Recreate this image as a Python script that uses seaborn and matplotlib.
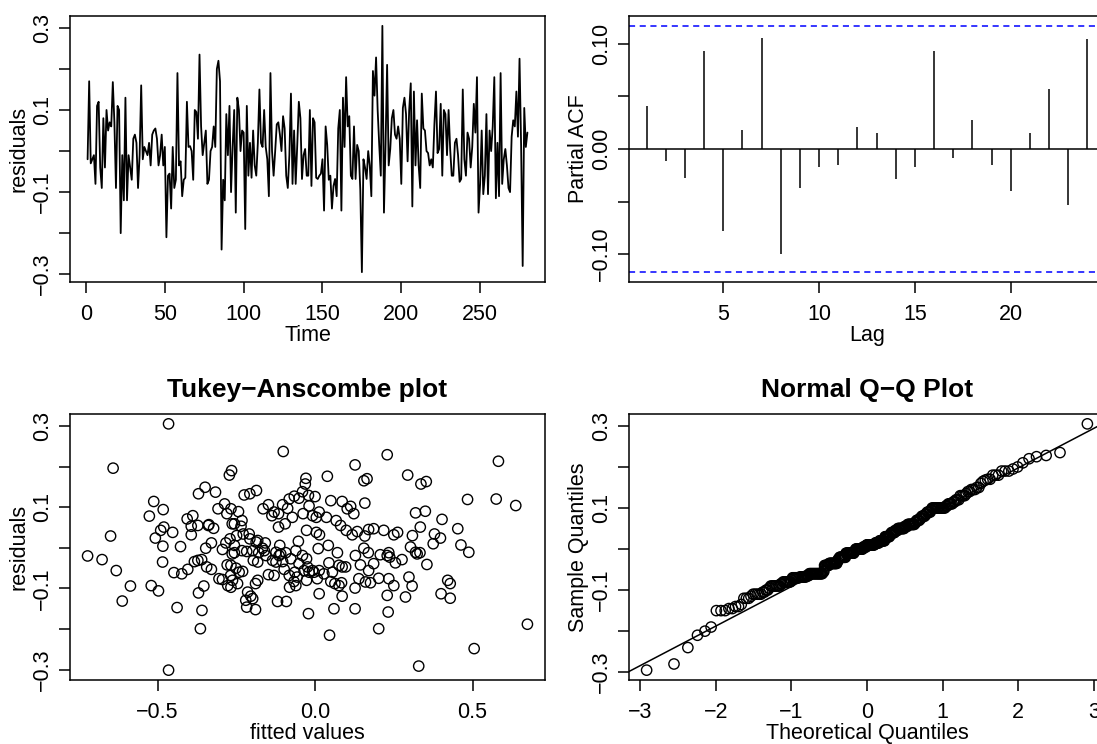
import numpy as np
import matplotlib
matplotlib.use("Agg")
import matplotlib.pyplot as plt
import seaborn as sns
from statistics import NormalDist

# residual series in five stretches
resid_part1 = [-0.02, 0.17, -0.03, -0.02, -0.01, -0.08, 0.11, 0.12, -0.04, -0.09,
               0.08, -0.04, 0.10, 0.05, 0.07, 0.06, 0.168, 0.07, -0.09, 0.11,
               0.10, -0.20, -0.01, -0.12, 0.13, -0.12, -0.01, -0.04, -0.07, 0.03,
               0.04, 0.02, -0.09, -0.01, 0.16, -0.02, 0.01, 0.00, -0.01, 0.02,
               -0.035, 0.04, 0.05, 0.055, 0.03, -0.035, -0.01]
resid_part2 = [0.04, -0.035, 0.01, -0.21, -0.06, -0.055, -0.14, 0.01, -0.09, -0.07,
               0.19, -0.035, -0.025, -0.11, -0.07, -0.065, 0.12, 0.01, 0.012, 0.00,
               -0.07, 0.10, 0.095, 0.03, 0.235, 0.06, -0.01, 0.02, 0.05, -0.08,
               -0.07, 0.00, 0.01, 0.06, 0.01, 0.20, 0.22, 0.17, -0.24, -0.07,
               -0.12, 0.09, -0.01, 0.11, -0.10, 0.01, 0.10, -0.15, 0.13, 0.10,
               0.00, 0.05, 0.045, -0.19]
resid_part3 = [0.11, -0.06, 0.02, -0.065, 0.05, -0.035, -0.06, 0.02, 0.15, 0.02,
               0.01, 0.10, 0.01, -0.02, -0.11, 0.19, 0.00, -0.06, 0.00, 0.065,
               0.07, 0.04, 0.00, 0.085, 0.055, -0.06, -0.09, -0.01, 0.14, -0.08,
               0.05, -0.08, 0.015, 0.12, 0.08, -0.068, -0.01, 0.005, -0.06, -0.06,
               0.10, -0.085, 0.08, 0.07, -0.065, -0.068, -0.06, -0.055, -0.02, -0.145,
               0.06, 0.015, -0.07, -0.06]
resid_part4 = [-0.14, -0.085, -0.068, -0.11, 0.055, 0.10, -0.145, 0.13, 0.01, 0.18,
               0.06, 0.085, -0.06, -0.068, 0.06, -0.068, 0.015, 0.00, -0.095, -0.295,
               -0.02, -0.04, -0.068, 0.00, -0.035, -0.11, 0.195, 0.135, 0.228, 0.10,
               0.015, -0.06, 0.305, -0.15, 0.015, 0.21, -0.035, 0.005, 0.08, 0.10,
               0.04, 0.03, 0.06, 0.03, -0.08, 0.105, 0.13, 0.09, -0.025, 0.10,
               0.165, -0.135]
resid_part5 = [0.145, -0.035, 0.075, -0.035, -0.09, 0.14, 0.055, 0.05, 0.00, -0.005,
               -0.035, -0.02, -0.04, 0.065, 0.145, -0.005, 0.005, 0.115, -0.06, 0.10,
               0.09, -0.01, 0.10, 0.005, -0.06, -0.06, 0.02, 0.03, -0.01, -0.075,
               -0.068, 0.15, -0.02, -0.06, 0.045, 0.03, -0.04, 0.01, 0.115, 0.045,
               0.18, -0.15, -0.08, 0.05, -0.105, -0.06, 0.09, -0.105, 0.05, 0.00,
               0.06, 0.18, -0.115, 0.02, -0.11, 0.19, -0.08, -0.02, 0.005, -0.035,
               -0.09, -0.10, 0.035, 0.075, 0.06, 0.145, 0.035, 0.225, 0.015, -0.28,
               0.105, 0.01, 0.045]

# partial autocorrelations, lags 1..24
pacf_lags = list(range(1, 25))
pacf_vals = [0.041, -0.011, -0.028, 0.093, -0.078, 0.018, 0.106, -0.100,
             -0.037, -0.017, -0.015, 0.021, 0.015, -0.029, -0.017, 0.093,
             -0.009, 0.028, -0.015, -0.040, 0.015, 0.057, -0.053, 0.105]

# Tukey-Anscombe plot: fitted values and residuals
ta_fitted_left = [-0.465, -0.641, -0.649, -0.722, -0.676, -0.631, -0.586, -0.612, -0.520, -0.497,
                  -0.465, -0.438, -0.512, -0.482, -0.526, -0.480, -0.490, -0.507, -0.452, -0.483,
                  -0.427, -0.484, -0.448, -0.423, -0.404, -0.383, -0.372, -0.360, -0.406, -0.388,
                  -0.393, -0.372, -0.393, -0.370, -0.349, -0.316, -0.353, -0.370, -0.359, -0.364,
                  -0.339, -0.322, -0.337, -0.347, -0.329, -0.344, -0.329, -0.308, -0.287, -0.280,
                  -0.272, -0.265, -0.294, -0.283, -0.305, -0.294, -0.277, -0.279, -0.263, -0.263,
                  -0.268]
ta_resid_left = [0.305, 0.196, 0.029, -0.020, -0.029, -0.056, -0.094, -0.131, -0.093, -0.106,
                 -0.301, -0.147, 0.114, 0.094, 0.078, 0.051, 0.043, 0.024, 0.038, 0.004,
                 0.003, -0.035, -0.061, -0.064, -0.053, -0.034, -0.031, -0.029, 0.071, 0.079,
                 0.053, 0.055, 0.032, 0.133, 0.149, 0.137, -0.094, -0.111, -0.154, -0.199,
                 0.055, 0.048, 0.057, -0.001, 0.012, -0.047, -0.053, 0.096, 0.108, 0.084,
                 0.179, 0.190, -0.004, 0.012, -0.076, -0.078, -0.093, -0.042, 0.059, -0.015,
                 -0.068]
ta_fitted_mid = [-0.101, 0.229, 0.127, 0.155, 0.165, 0.039, -0.029, -0.031, -0.040, -0.021,
                 -0.066, -0.082, -0.186, -0.207, -0.225, -0.243, -0.267, -0.165, -0.148, -0.130,
                 -0.116, -0.103, -0.087, -0.072, -0.116, -0.095, -0.038, -0.019, 0.004, 0.013,
                 0.036, 0.050, 0.086, 0.102, 0.113, 0.123, 0.158, 0.067, 0.081, 0.099,
                 0.118, 0.134, 0.170, 0.186, 0.158, 0.218, -0.256, -0.235, -0.249, -0.228,
                 -0.209, -0.232, -0.256, -0.217, -0.198, -0.182, -0.167, -0.179, -0.196, -0.182,
                 -0.158, -0.124, -0.112, -0.109, -0.093, -0.077, -0.124, -0.098, -0.130, -0.148,
                 -0.182, -0.189, -0.267, -0.251, -0.241, -0.230, -0.262, -0.246, -0.267, -0.214,
                 -0.204, -0.220, -0.198, -0.217, -0.189, -0.119, -0.091, -0.053, -0.061, -0.040,
                 -0.027, -0.024, -0.051, -0.064, -0.057, -0.067, -0.081, -0.061, -0.027, -0.003,
                 0.013, 0.028, 0.007, 0.013, -0.021, 0.046, 0.060, 0.086, 0.127, 0.202,
                 0.232, 0.229, 0.127, 0.139, 0.160, 0.176, 0.202, 0.170, 0.186, 0.207,
                 0.229, 0.144, 0.155, 0.169, 0.128, 0.071, 0.042, 0.010, 0.004, 0.014,
                 -0.027, 0.044, 0.055, 0.076, 0.086, 0.097, 0.050, 0.063, 0.076, 0.084,
                 -0.008, -0.019, -0.035, -0.135, -0.156, -0.161, -0.114, -0.103, -0.082, -0.008,
                 0.000, -0.051, -0.137, -0.232, -0.207, -0.187, -0.270, -0.256]
ta_resid_mid = [0.237, 0.229, 0.204, 0.165, 0.170, 0.176, 0.171, 0.157, 0.138, 0.129,
                0.127, 0.120, 0.141, 0.133, 0.130, 0.089, 0.096, 0.096, 0.106, 0.088,
                0.084, 0.106, 0.097, 0.075, 0.051, 0.059, 0.084, 0.103, 0.075, 0.088,
                0.075, 0.116, 0.114, 0.096, 0.102, 0.084, 0.110, 0.067, 0.055, 0.043,
                0.032, 0.040, 0.045, 0.047, 0.029, 0.043, 0.059, 0.053, 0.030, 0.034,
                0.034, -0.007, -0.012, -0.009, -0.007, 0.018, -0.001, -0.012, -0.031, -0.035,
                0.012, -0.011, 0.006, -0.015, -0.012, -0.027, -0.035, -0.053, -0.068, -0.066,
                -0.080, -0.088, -0.043, -0.050, -0.060, -0.058, -0.080, -0.088, -0.097, -0.109,
                -0.119, -0.129, -0.125, -0.146, -0.152, -0.132, -0.132, 0.016, -0.007, -0.019,
                -0.027, -0.047, -0.039, -0.060, -0.072, -0.083, -0.097, -0.093, -0.080, -0.060,
                -0.056, -0.064, -0.076, -0.113, -0.162, -0.215, -0.150, -0.119, -0.150, -0.199,
                -0.158, -0.117, -0.099, -0.076, -0.084, -0.086, -0.075, -0.056, -0.039, -0.017,
                -0.019, -0.042, -0.001, -0.012, -0.019, -0.012, 0.006, -0.002, 0.038, 0.032,
                0.043, -0.037, -0.060, -0.043, -0.047, -0.047, -0.083, -0.088, -0.093, -0.086,
                -0.056, -0.060, -0.056, -0.031, -0.019, -0.007, -0.019, -0.034, -0.068, 0.079,
                0.126, 0.122, 0.079, 0.067, 0.022, 0.014, 0.022, 0.006]
ta_fitted_right = [0.294, 0.336, 0.353, 0.582, 0.484, 0.575, 0.637, 0.319, 0.350, 0.403,
                   0.334, 0.309, 0.262, 0.250, 0.379, 0.398, 0.453, 0.463, 0.488, 0.375,
                   0.303, 0.319, 0.333, 0.324, 0.234, 0.237, 0.255, 0.276, 0.355, 0.234,
                   0.250, 0.287, 0.298, 0.308, 0.421, 0.429, 0.400, 0.429, 0.674, 0.505,
                   0.329]
ta_resid_right = [0.179, 0.157, 0.163, 0.213, 0.119, 0.120, 0.104, 0.086, 0.090, 0.070,
                  0.051, 0.030, 0.038, 0.032, 0.034, 0.024, 0.047, 0.007, -0.011, 0.010,
                  0.002, -0.011, -0.012, -0.015, -0.012, -0.023, -0.037, -0.029, -0.041, -0.076,
                  -0.093, -0.121, -0.072, -0.094, -0.080, -0.088, -0.113, -0.124, -0.188, -0.248,
                  -0.291]

resid_ticks = [-0.3, -0.2, -0.1, 0.0, 0.1, 0.2, 0.3]
resid_ticklabels = ["\u22120.3", "", "\u22120.1", "", "0.1", "", "0.3"]

residuals = np.array(resid_part1 + resid_part2 + resid_part3 + resid_part4 + resid_part5)
time = np.arange(1, len(residuals) + 1)
ta_fitted = np.array(ta_fitted_left + ta_fitted_mid + ta_fitted_right)
ta_resid = np.array(ta_resid_left + ta_resid_mid + ta_resid_right)

FS = 15.5       # axis text
FS_TITLE = 19


def r_range(v):
    # R style axis range: data range padded by 4% each side
    lo, hi = float(np.min(v)), float(np.max(v))
    pad = 0.04 * (hi - lo)
    return lo - pad, hi + pad


def r_style(ax, xlabel, ylabel, title=None):
    for sp in ax.spines.values():
        sp.set_visible(True)
        sp.set_linewidth(1.1)
        sp.set_color("black")
    ax.tick_params(axis="both", direction="out", length=8, width=1.1,
                   labelsize=FS, colors="black", labelcolor="black")
    ax.tick_params(axis="x", pad=8.0)
    ax.tick_params(axis="y", pad=4, labelrotation=90)
    for lab in ax.get_yticklabels():
        lab.set_va("center")
    ax.set_xlabel(xlabel, fontsize=FS, labelpad=0, color="black")
    ax.set_ylabel(ylabel, fontsize=FS, labelpad=2, color="black")
    if title:
        ax.set_title(title, fontsize=FS_TITLE, fontweight="bold", pad=12.5,
                     color="black")
    ax.grid(False)


sns.set_style("ticks")
plt.rcParams["font.family"] = ["Liberation Sans", "DejaVu Sans"]
plt.rcParams["axes.unicode_minus"] = True
plt.rcParams["text.color"] = "black"
plt.rcParams["axes.labelcolor"] = "black"

W, H = 1097, 744
fig = plt.figure(figsize=(W / 100, H / 100), dpi=100)
fig.patch.set_facecolor("white")


def box(left, top, width, height):
    return fig.add_axes([left / W, 1 - (top + height) / H, width / W, height / H])


ax1 = box(70, 16, 475, 266)
ax2 = box(629, 16, 476, 266)
ax3 = box(70, 414, 475, 266)
ax4 = box(629, 414, 476, 266)

# time plot of residuals
sns.lineplot(x=time, y=residuals, ax=ax1, color="black", linewidth=1.3,
             estimator=None, sort=False)
ax1.set_xlim(r_range(time))
ax1.set_ylim(r_range(residuals))
ax1.set_xticks([0, 50, 100, 150, 200, 250])
ax1.set_yticks(resid_ticks)
ax1.set_yticklabels(resid_ticklabels)
r_style(ax1, "Time", "residuals")

# partial ACF
n = len(residuals)
clim = 1.96 / np.sqrt(n)
ax2.vlines(pacf_lags, 0, pacf_vals, color="black", linewidth=1.1)
ax2.axhline(0, color="black", linewidth=1.1)
for c in (clim, -clim):
    ax2.axhline(c, color="#0000FF", linewidth=1.1, linestyle=(0, (4, 3)))
ax2.set_xlim(r_range(pacf_lags))
ax2.set_ylim(r_range(np.r_[pacf_vals, clim, -clim]))
ax2.set_xticks([5, 10, 15, 20])
ax2.set_yticks([-0.10, -0.05, 0.0, 0.05, 0.10])
ax2.set_yticklabels(["\u22120.10", "", "0.00", "", "0.10"])
r_style(ax2, "Lag", "Partial ACF")

# Tukey-Anscombe plot
sns.scatterplot(x=ta_fitted, y=ta_resid, ax=ax3, s=55, color="black",
                facecolor="none", edgecolor="black", linewidth=1.0)
ax3.set_xlim(r_range(ta_fitted))
ax3.set_ylim(r_range(ta_resid))
ax3.set_xticks([-0.5, 0.0, 0.5])
ax3.set_xticklabels(["\u22120.5", "0.0", "0.5"])
ax3.set_yticks(resid_ticks)
ax3.set_yticklabels(resid_ticklabels)
r_style(ax3, "fitted values", "residuals", "Tukey\u2212Anscombe plot")

# normal Q-Q plot of the residuals
nd = NormalDist()
sample = np.sort(residuals)
theo = np.array([nd.inv_cdf((i - 0.5) / n) for i in range(1, n + 1)])
q1, q3 = np.percentile(residuals, [25, 75])
z1, z3 = nd.inv_cdf(0.25), nd.inv_cdf(0.75)
slope = (q3 - q1) / (z3 - z1)
intercept = q1 - slope * z1
sns.scatterplot(x=theo, y=sample, ax=ax4, s=55, color="black",
                facecolor="none", edgecolor="black", linewidth=1.0)
ax4.axline((0, intercept), slope=slope, color="black", linewidth=1.1)
ax4.set_xlim(r_range(theo))
ax4.set_ylim(r_range(sample))
ax4.set_xticks([-3, -2, -1, 0, 1, 2, 3])
ax4.set_xticklabels(["\u22123", "\u22122", "\u22121", "0", "1", "2", "3"])
ax4.set_yticks(resid_ticks)
ax4.set_yticklabels(resid_ticklabels)
r_style(ax4, "Theoretical Quantiles", "Sample Quantiles", "Normal Q\u2212Q Plot")

fig.savefig("out.png", dpi=100, facecolor="white")
